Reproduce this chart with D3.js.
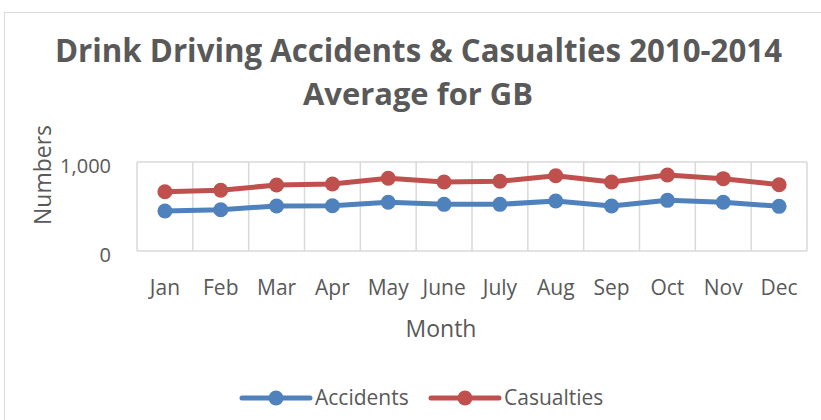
<!DOCTYPE html>
<html><head><meta charset="utf-8">
<script src="https://cdn.jsdelivr.net/npm/d3@7"></script>
<style>body{margin:0;background:#fff}svg{display:block}</style>
</head><body>
<script>
const months = ["Jan","Feb","Mar","Apr","May","June","July","Aug","Sep","Oct","Nov","Dec"];
const accidents = [449,464,506,509,547,524,524,562,506,569,547,502];
const casualties = [666,682,742,753,817,775,783,846,775,854,813,745];
const yTicks = [0,1000];
const seriesNames = ["Accidents","Casualties"];
const colors = ["#4f81bd","#c0504d"];

const W=821,H=420;
const svg=d3.select("body").append("svg").attr("width",W).attr("height",H);
svg.append("rect").attr("x",4.5).attr("y",12.5).attr("width",W).attr("height",H).attr("fill","#fff").attr("stroke","#d9d9d9");
const font="'Open Sans', sans-serif";
const txt="#595959";

const x=d3.scaleBand().domain(months).range([137,807]);
const y=d3.scaleLinear().domain([0,1000]).range([251,162]);

// gridlines
const g=svg.append("g");
g.selectAll("line.v").data(d3.range(months.length+1)).join("line")
 .attr("x1",i=>137+i*x.step()).attr("x2",i=>137+i*x.step())
 .attr("y1",y(1000)).attr("y2",y(0)).attr("stroke","#d9d9d9").attr("stroke-width",1.5);
g.selectAll("line.h").data(yTicks).join("line")
 .attr("x1",137).attr("x2",807).attr("y1",d=>y(d)).attr("y2",d=>y(d)).attr("stroke","#d9d9d9").attr("stroke-width",1.5);

// y axis labels
const yAxis=d3.axisLeft(y).tickValues(yTicks).tickFormat(d3.format(",")).tickSize(0).tickPadding(26);
const ya=svg.append("g").attr("transform","translate(137,4)").call(yAxis);
ya.select(".domain").remove();
ya.selectAll("text").attr("font-family",font).attr("font-size",20).attr("fill",txt);

const xAxis=d3.axisBottom(x).tickSize(0).tickPadding(29);
const xa=svg.append("g").attr("transform","translate(0,251)").call(xAxis);
xa.select(".domain").remove();
xa.selectAll("text").attr("font-family",font).attr("font-size",21).attr("fill",txt);

// series
const data=[accidents,casualties];
data.forEach((vals,si)=>{
  const line=d3.line().x((d,i)=>x(months[i])+x.bandwidth()/2).y(d=>y(d));
  svg.append("path").datum(vals).attr("d",line).attr("fill","none").attr("stroke",colors[si]).attr("stroke-width",5).attr("stroke-linejoin","round");
  svg.selectAll(null).data(vals).join("circle").attr("cx",(d,i)=>x(months[i])+x.bandwidth()/2).attr("cy",d=>y(d)).attr("r",7.5).attr("fill",colors[si]);
});

// titles
svg.append("text").attr("x",418.5).attr("y",62).attr("text-anchor","middle").attr("font-family",font).attr("font-weight","bold").attr("font-size",32).attr("fill",txt)
  .attr("textLength",727).attr("lengthAdjust","spacingAndGlyphs").text("Drink Driving Accidents & Casualties 2010-2014");
svg.append("text").attr("x",418).attr("y",105).attr("text-anchor","middle").attr("font-family",font).attr("font-weight","bold").attr("font-size",31).attr("fill",txt)
  .attr("textLength",230).attr("lengthAdjust","spacingAndGlyphs").text("Average for GB");
svg.append("text").attr("x",441).attr("y",337).attr("text-anchor","middle").attr("font-family",font).attr("font-size",23).attr("fill",txt).text("Month");
svg.append("text").attr("transform","translate(51,175) rotate(-90)").attr("text-anchor","middle").attr("font-family",font).attr("font-size",23).attr("fill",txt).text("Numbers");

// legend
const leg=[{x:242,name:seriesNames[0],c:colors[0]},{x:431,name:seriesNames[1],c:colors[1]}];
leg.forEach(l=>{
  svg.append("line").attr("x1",l.x).attr("x2",l.x+68).attr("y1",398).attr("y2",398).attr("stroke",l.c).attr("stroke-width",5).attr("stroke-linecap","round");
  svg.append("circle").attr("cx",l.x+34).attr("cy",398).attr("r",7.5).attr("fill",l.c);
  svg.append("text").attr("x",l.x+73).attr("y",405).attr("font-family",font).attr("font-size",21).attr("fill",txt).text(l.name);
});
</script>
</body></html>
